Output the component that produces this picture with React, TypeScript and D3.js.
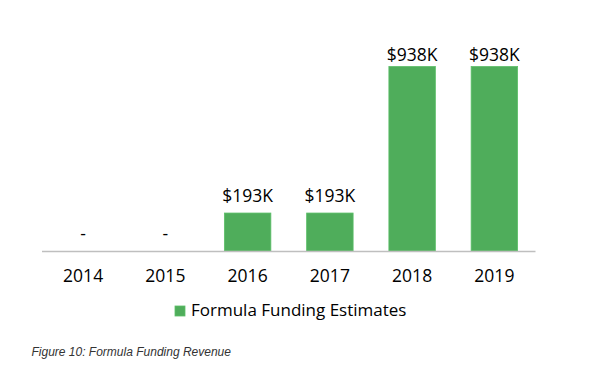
import React, { useEffect, useRef } from 'react';
import * as d3 from 'd3';

const years = ['2014', '2015', '2016', '2017', '2018', '2019'];
const fundingK = [0, 0, 193, 193, 938, 938];
const seriesName = 'Formula Funding Estimates';
const caption = 'Figure 10: Formula Funding Revenue';

const App = () => {
  const chartRef = useRef<HTMLDivElement>(null);

  useEffect(() => {
    const width = 600;
    const height = 372;
    const green = '#4fad5b';
    const font = "'Open Sans', sans-serif";

    d3.select(chartRef.current).selectAll('*').remove();

    const svg = d3
      .select(chartRef.current)
      .append('svg')
      .attr('width', width)
      .attr('height', height)
      .style('position', 'absolute')
      .style('left', 0)
      .style('top', 0)
      .style('background', '#fff');

    const x = d3
      .scaleBand()
      .domain(years)
      .range([42, 535.5])
      .paddingInner(0.435)
      .paddingOuter(0.2175);

    const y = d3.scaleLinear().domain([0, 1000]).range([251, 54.3]);

    // bars
    svg
      .selectAll('.bar')
      .data(years)
      .enter()
      .append('rect')
      .attr('class', 'bar')
      .attr('x', (d) => x(d))
      .attr('y', (d, i) => y(fundingK[i]))
      .attr('width', x.bandwidth())
      .attr('height', (d, i) => y(0) - y(fundingK[i]))
      .attr('fill', green)
      .attr('stroke', '#5cbf68')
      .attr('stroke-width', 0.8);

    // baseline axis
    svg
      .append('line')
      .attr('x1', x.range()[0])
      .attr('x2', x.range()[1])
      .attr('y1', y(0) + 0.5)
      .attr('y2', y(0) + 0.5)
      .attr('stroke', '#bfbfbf')
      .attr('stroke-width', 1.3);

    // data labels
    svg
      .selectAll('.val')
      .data(years)
      .enter()
      .append('text')
      .attr('class', 'val')
      .attr('x', (d) => x(d) + x.bandwidth() / 2)
      .attr('y', (d, i) => Math.max(61, y(fundingK[i]) - 11))
      .attr('text-anchor', 'middle')
      .style('font-family', font)
      .style('font-size', '17.5px')
      .attr('fill', '#000')
      .text((d, i) => (fundingK[i] === 0 ? '-' : `$${fundingK[i]}K`));

    // category labels
    svg
      .selectAll('.tick')
      .data(years)
      .enter()
      .append('text')
      .attr('class', 'tick')
      .attr('x', (d) => x(d) + x.bandwidth() / 2)
      .attr('y', 281.7)
      .attr('text-anchor', 'middle')
      .style('font-family', font)
      .style('font-size', '17.5px')
      .attr('fill', '#000')
      .text((d) => d);

    // legend
    svg
      .append('rect')
      .attr('x', 175)
      .attr('y', 306)
      .attr('width', 10)
      .attr('height', 10)
      .attr('fill', green)
      .attr('stroke', '#5cbf68')
      .attr('stroke-width', 0.8);

    svg
      .append('text')
      .attr('x', 191)
      .attr('y', 316)
      .style('font-family', font)
      .style('font-size', '17px')
      .attr('fill', '#000')
      .text(seriesName);

    // caption
    svg
      .append('text')
      .attr('x', 31.5)
      .attr('y', 355.5)
      .style('font-family', "'Liberation Sans', Arial, sans-serif")
      .style('font-size', '12px')
      .style('font-style', 'italic')
      .attr('fill', '#333')
      .text(caption);
  }, []);

  return <div ref={chartRef}></div>;
};

export default App;
